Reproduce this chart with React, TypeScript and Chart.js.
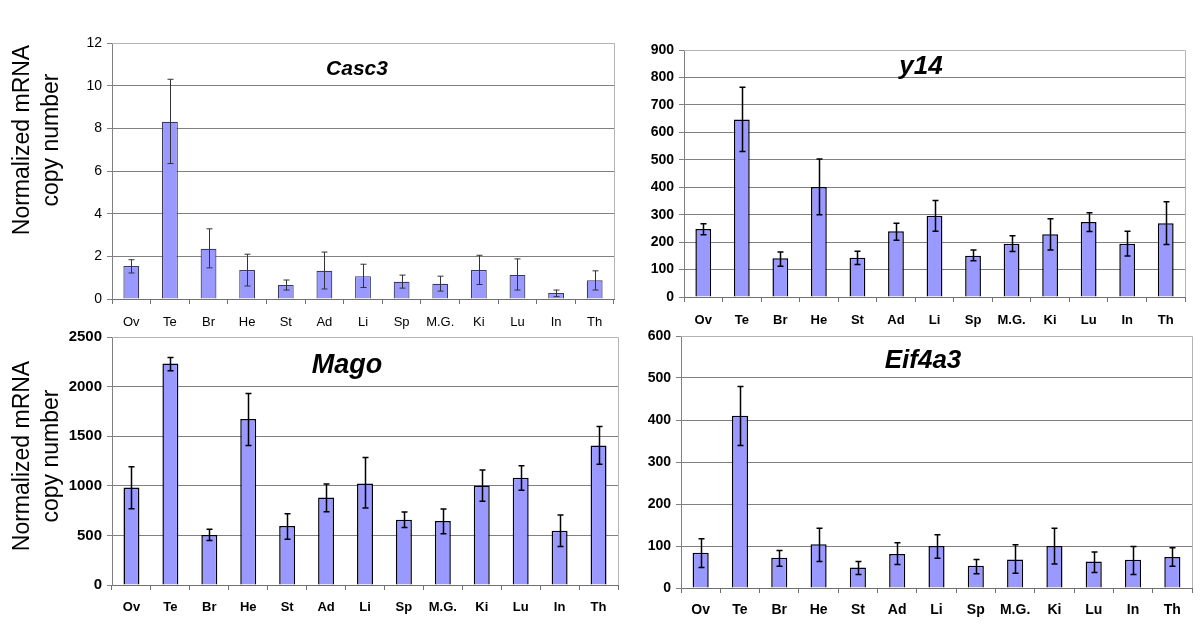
import React, { useEffect, useRef } from 'react';
import { Chart, registerables } from 'chart.js';

Chart.register(...registerables);

const categories = ['Ov', 'Te', 'Br', 'He', 'St', 'Ad', 'Li', 'Sp', 'M.G.', 'Ki', 'Lu', 'In', 'Th'];

const casc3Values = [1.55, 8.31, 2.35, 1.36, 0.66, 1.32, 1.07, 0.81, 0.71, 1.36, 1.13, 0.28, 0.88];
const casc3High = [1.84, 10.3, 3.29, 2.1, 0.89, 2.2, 1.63, 1.12, 1.07, 2.05, 1.88, 0.42, 1.32];
const casc3Low = [1.22, 6.35, 1.46, 0.61, 0.42, 0.47, 0.54, 0.51, 0.37, 0.68, 0.42, 0.11, 0.42];

const y14Values = [248, 647, 141, 401, 143, 240, 296, 150, 194, 229, 273, 194, 269];
const y14High = [267, 764, 164, 503, 167, 269, 352, 171, 223, 285, 307, 240, 347];
const y14Low = [227, 530, 112, 300, 118, 207, 240, 132, 166, 171, 239, 149, 191];

const magoValues = [982, 2233, 503, 1673, 594, 881, 1022, 658, 644, 1002, 1080, 547, 1407];
const magoHigh = [1191, 2294, 563, 1930, 719, 1019, 1285, 736, 766, 1160, 1201, 705, 1599];
const magoLow = [769, 2159, 449, 1407, 462, 739, 776, 580, 516, 843, 955, 388, 1218];

const eifValues = [84, 410, 72, 104, 49, 81, 100, 53, 68, 100, 63, 67, 74];
const eifHigh = [117, 480, 89, 142, 63, 108, 127, 68, 103, 142, 86, 99, 96];
const eifLow = [49, 339, 52, 63, 32, 56, 71, 34, 35, 57, 37, 32, 52];

const yTitleLines = ['Normalized mRNA', 'copy number'];

const SANS = "'Liberation Sans', Arial, sans-serif";
const NARROW = "'Liberation Sans Narrow', 'Arial Narrow', 'Liberation Sans', sans-serif";

type PanelCfg = {
  left: number; top: number; w: number; h: number;
  pad: { left: number; top: number; right: number; bottom: number };
  yW: number; xH: number; xPad: number;
  values: number[]; high: number[]; low: number[];
  max: number; step: number;
  title: string; titleFont: string; titleX: number; titleY: number;
  tickFont: { family: string; size: number; weight: string };
  xFont: { family: string; size: number; weight: string };
  barBorder: string; barBorderWidth: number;
  errColor: string; errWidth: number;
  yTitle?: { x1: number; x2: number; y: number };
};

const panels: PanelCfg[] = [
  {
    left: 0, top: 0, w: 620, h: 330,
    pad: { left: 0, top: 43, right: 6, bottom: 0 }, yW: 112, xH: 31, xPad: 11,
    values: casc3Values, high: casc3High, low: casc3Low, max: 12, step: 2,
    title: 'Casc3', titleFont: `italic bold 21px ${SANS}`, titleX: 357, titleY: 69,
    tickFont: { family: NARROW, size: 14, weight: 'normal' },
    xFont: { family: NARROW, size: 13, weight: 'normal' },
    barBorder: '#3c3c5a', barBorderWidth: 1.2, errColor: '#333333', errWidth: 1,
    yTitle: { x1: 23, x2: 52, y: 140 },
  },
  {
    left: 620, top: 0, w: 580, h: 330,
    pad: { left: 0, top: 50, right: 15, bottom: 0 }, yW: 64, xH: 33, xPad: 11,
    values: y14Values, high: y14High, low: y14Low, max: 900, step: 100,
    title: 'y14', titleFont: `italic bold 26px ${SANS}`, titleX: 301, titleY: 67,
    tickFont: { family: SANS, size: 14, weight: 'bold' },
    xFont: { family: SANS, size: 13, weight: 'bold' },
    barBorder: '#000000', barBorderWidth: 1.5, errColor: '#000000', errWidth: 1.5,
  },
  {
    left: 0, top: 320, w: 620, h: 311,
    pad: { left: 0, top: 17, right: 2, bottom: 0 }, yW: 112, xH: 46, xPad: 10,
    values: magoValues, high: magoHigh, low: magoLow, max: 2500, step: 500,
    title: 'Mago', titleFont: `italic bold 27px ${SANS}`, titleX: 347, titleY: 46,
    tickFont: { family: SANS, size: 15, weight: 'bold' },
    xFont: { family: SANS, size: 13, weight: 'bold' },
    barBorder: '#000000', barBorderWidth: 1.5, errColor: '#000000', errWidth: 1.5,
    yTitle: { x1: 23, x2: 52, y: 136 },
  },
  {
    left: 620, top: 320, w: 580, h: 311,
    pad: { left: 0, top: 16, right: 8, bottom: 0 }, yW: 61, xH: 43, xPad: 9,
    values: eifValues, high: eifHigh, low: eifLow, max: 600, step: 100,
    title: 'Eif4a3', titleFont: `italic bold 26px ${SANS}`, titleX: 303, titleY: 41,
    tickFont: { family: SANS, size: 14, weight: 'bold' },
    xFont: { family: SANS, size: 14, weight: 'bold' },
    barBorder: '#000000', barBorderWidth: 1.5, errColor: '#000000', errWidth: 1.5,
  },
];

const decorPlugin = {
  id: 'decor',
  beforeDatasetsDraw(chart: any) {
    const { ctx, chartArea } = chart;
    ctx.save();
    ctx.strokeStyle = '#b4b4b4';
    ctx.lineWidth = 1;
    ctx.beginPath();
    ctx.moveTo(chartArea.left, chartArea.top + 0.5);
    ctx.lineTo(Math.round(chartArea.right) + 0.5, chartArea.top + 0.5);
    ctx.lineTo(Math.round(chartArea.right) + 0.5, chartArea.bottom);
    ctx.stroke();
    ctx.restore();
  },
  afterDatasetsDraw(chart: any, _args: any, opts: any) {
    const { ctx } = chart;
    const meta = chart.getDatasetMeta(0);
    const yScale = chart.scales.y;
    ctx.save();
    ctx.strokeStyle = opts.errColor;
    ctx.lineWidth = opts.errWidth;
    meta.data.forEach((bar: any, i: number) => {
      const x = Math.round(bar.x) + 0.5;
      const yh = yScale.getPixelForValue(opts.high[i]);
      const yl = yScale.getPixelForValue(opts.low[i]);
      ctx.beginPath();
      ctx.moveTo(x, yh);
      ctx.lineTo(x, yl);
      ctx.moveTo(x - 3, yh);
      ctx.lineTo(x + 3, yh);
      ctx.moveTo(x - 3, yl);
      ctx.lineTo(x + 3, yl);
      ctx.stroke();
    });
    ctx.restore();
  },
  afterDraw(chart: any, _args: any, opts: any) {
    const { ctx } = chart;
    ctx.save();
    ctx.fillStyle = '#000';
    ctx.font = opts.titleFont;
    ctx.textAlign = 'center';
    ctx.textBaseline = 'middle';
    ctx.fillText(opts.title, opts.titleX, opts.titleY);
    if (opts.yTitle) {
      ctx.font = `23px ${SANS}`;
      const t = opts.yTitle;
      ctx.translate(t.x1, t.y);
      ctx.rotate(-Math.PI / 2);
      ctx.fillText(yTitleLines[0], 0, 0);
      ctx.fillText(yTitleLines[1], 0, t.x2 - t.x1);
    }
    ctx.restore();
  },
};

function Panel({ cfg }: { cfg: PanelCfg }) {
  const ref = useRef<HTMLCanvasElement>(null);
  useEffect(() => {
    const chart = new Chart(ref.current as HTMLCanvasElement, {
      type: 'bar',
      data: {
        labels: categories,
        datasets: [
          {
            data: cfg.values,
            backgroundColor: '#9999ff',
            borderColor: cfg.barBorder,
            borderWidth: cfg.barBorderWidth,
            barPercentage: 0.41,
            categoryPercentage: 1,
          },
        ],
      },
      options: {
        responsive: false,
        animation: false,
        layout: { padding: cfg.pad },
        plugins: {
          legend: { display: false },
          tooltip: { enabled: false },
          decor: {
            high: cfg.high, low: cfg.low, errColor: cfg.errColor, errWidth: cfg.errWidth,
            title: cfg.title, titleFont: cfg.titleFont, titleX: cfg.titleX, titleY: cfg.titleY,
            yTitle: cfg.yTitle,
          },
        } as any,
        scales: {
          x: {
            grid: { offset: true, drawOnChartArea: false, drawTicks: true, tickLength: 5, color: '#707070' },
            border: { color: '#707070', width: 1 },
            ticks: { color: '#000', font: cfg.xFont as any, padding: cfg.xPad, maxRotation: 0, autoSkip: false },
            afterFit: (s: any) => { s.height = cfg.xH; },
          },
          y: {
            min: 0, max: cfg.max,
            grid: { color: '#808080', drawTicks: true, tickLength: 5 },
            border: { color: '#808080', width: 1 },
            ticks: {
              stepSize: cfg.step, color: '#000', font: cfg.tickFont as any, padding: 5,
              callback: (v: any) => String(v),
            },
            afterFit: (s: any) => { s.width = cfg.yW; },
          },
        },
      },
      plugins: [decorPlugin],
    } as any);
    return () => chart.destroy();
  }, []);
  return (
    <canvas
      ref={ref}
      width={cfg.w}
      height={cfg.h}
      style={{ position: 'absolute', left: cfg.left, top: cfg.top, width: cfg.w, height: cfg.h }}
    />
  );
}

export default function App() {
  return (
    <div style={{ position: 'absolute', left: 0, top: 0, width: 1200, height: 631, background: '#fff', overflow: 'hidden' }}>
      {panels.map((p, i) => (
        <Panel key={i} cfg={p} />
      ))}
    </div>
  );
}
